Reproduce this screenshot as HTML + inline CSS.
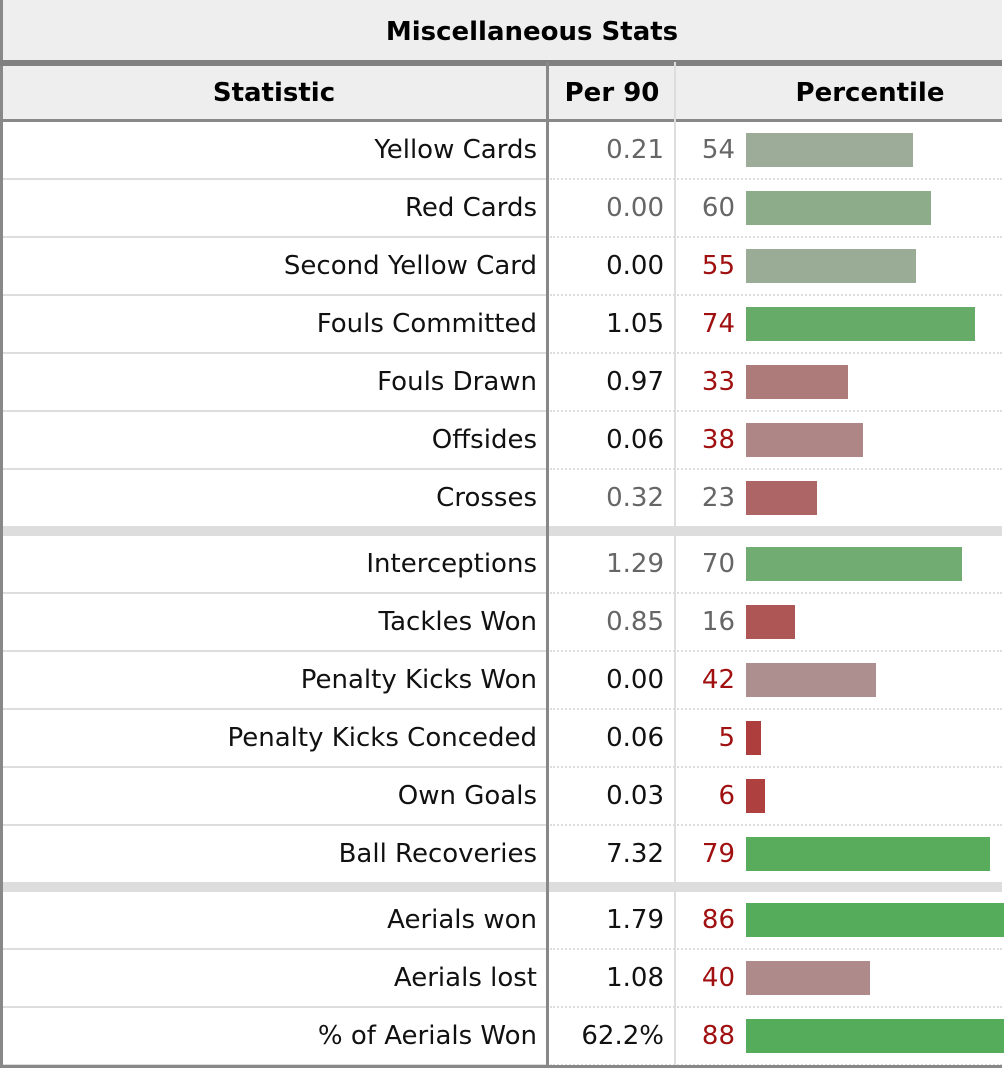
<!DOCTYPE html>
<html><head><meta charset="utf-8"><style>
html,body{margin:0;padding:0;background:#fff;width:1004px;height:1074px;overflow:hidden;font-family:"DejaVu Sans","Liberation Sans",sans-serif;}
#t{position:relative;width:1004px;height:1074px;}
.a{position:absolute;box-sizing:border-box;}
.txt{position:absolute;font-size:26px;line-height:58px;white-space:nowrap;}
</style></head><body>
<div id="t">
  <div class="a" style="left:0;top:0;width:1002px;height:60px;background:#eee;border-left:3px solid #888;"></div>
  <div class="txt" style="left:0;width:1064px;top:3px;text-align:center;font-weight:bold;font-size:26px;">Miscellaneous Stats</div>
  <div class="a" style="left:0;top:60px;width:1002px;height:6px;background:#808080;"></div>
  <div class="a" style="left:0;top:66px;width:1002px;height:55px;background:#eee;border-left:3px solid #888;"></div>
  <div class="txt" style="left:0;width:548px;top:64px;text-align:center;font-weight:bold;">Statistic</div>
  <div class="txt" style="left:549px;width:126px;top:64px;text-align:center;font-weight:bold;">Per 90</div>
  <div class="txt" style="left:740px;width:260px;top:64px;text-align:center;font-weight:bold;">Percentile</div>
  <div class="a" style="left:0;top:119px;width:1002px;height:3px;background:#888;"></div>
</div>
<script>
const stats=["Yellow Cards","Red Cards","Second Yellow Card","Fouls Committed","Fouls Drawn","Offsides","Crosses","Interceptions","Tackles Won","Penalty Kicks Won","Penalty Kicks Conceded","Own Goals","Ball Recoveries","Aerials won","Aerials lost","% of Aerials Won"];
const per90=["0.21","0.00","0.00","1.05","0.97","0.06","0.32","1.29","0.85","0.00","0.06","0.03","7.32","1.79","1.08","62.2%"];
const percentiles=[54,60,55,74,33,38,23,70,16,42,5,6,79,86,40,88];
const per90Muted=[1,1,0,0,0,0,1,1,1,0,0,0,0,0,0,0];
const pctMuted=[1,1,0,0,0,0,1,1,1,0,0,0,0,0,0,0];
const groupBreaksAfter=[6,12];

const t=document.getElementById('t');
const ROW=58, BAR0=746, SCALE=3.09;
function barX(p){return BAR0;}
function barW(p){return p*SCALE;}
function lerp(a,b,k){return Math.round(a+(b-a)*k);}
function barColor(p){
  if(p>=50){const k=Math.min(1,(p-50)/30);return `rgb(${lerp(168,85,k)},${lerp(172,172,k)},${lerp(162,90,k)})`;}
  const k=Math.min(1,(50-p)/45);return `rgb(${lerp(174,174,k)},${lerp(160,62,k)},${lerp(160,62,k)})`;
}
function add(tag,cls,style,text){const e=document.createElement(tag);e.className=cls;e.style.cssText=style;if(text!=null)e.textContent=text;t.appendChild(e);return e;}
let y=122;
for(let i=0;i<stats.length;i++){
  const row=add('div','a',`left:0;top:${y}px;width:1002px;height:${ROW}px;border-left:3px solid #888;`);
  
  
  const ln=add('div','a',`left:3px;top:${y+ROW-2}px;width:544px;height:2px;background:#ddd;`);
  
  
  const dl=add('div','a',`left:550px;top:${y+ROW-2}px;width:452px;height:0;border-top:2px dotted #ddd;`);
  
  
  const s=add('div','txt',`left:0;width:537px;top:${y-1}px;text-align:right;color:#111;`,stats[i]);
  
  
  const v=add('div','txt',`left:550px;width:114px;top:${y-1}px;text-align:right;color:${per90Muted[i]?'#666':'#111'};`,per90[i]);
  
  
  const p=add('div','txt',`left:680px;width:55px;top:${y-1}px;text-align:right;color:${pctMuted[i]?'#666':'#a01010'};`,String(percentiles[i]));
  
  
  const b=add('div','a',`left:${barX(percentiles[i])}px;top:${y+11}px;width:${barW(percentiles[i])}px;height:34px;background:${barColor(percentiles[i])};`);
  
  
  y+=ROW;
  if(groupBreaksAfter.includes(i)){
    const g=add('div','a',`left:0;top:${y-2}px;width:1002px;height:10px;background:#ddd;border-left:3px solid #888;`);
    
    
    y+=8;
  }
}
const c1=add('div','a',`left:546px;top:62px;width:3px;height:${y-62}px;background:#888;`);


const c2=add('div','a',`left:674px;top:62px;width:2px;height:${y-62}px;background:#ddd;`);


const bb=add('div','a',`left:0;top:${y-1}px;width:1002px;height:3px;background:#888;`);


</script>
</body></html>
